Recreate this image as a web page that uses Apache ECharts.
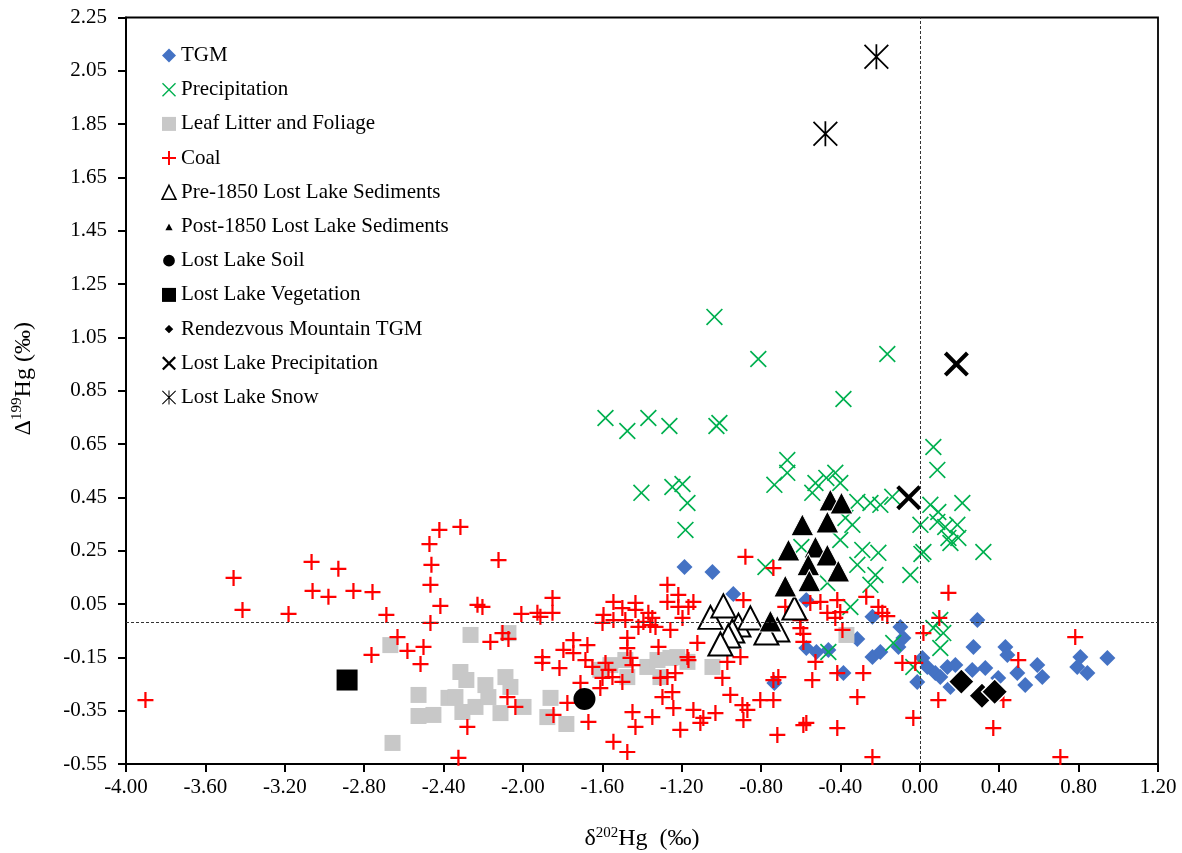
<!DOCTYPE html>
<html>
<head>
<meta charset="utf-8">
<title>Mercury isotope signatures</title>
<script src="https://cdn.jsdelivr.net/npm/echarts@6/dist/echarts.min.js"></script>
<style>
  html, body { margin: 0; padding: 0; background: #fff; }
  #chart { width: 1182px; height: 853px; }
</style>
</head>
<body>
<div id="chart"></div>
<script>
// Series names, in legend order
const seriesNames = [
  'TGM', 'Precipitation', 'Leaf Litter and Foliage', 'Coal',
  'Pre-1850 Lost Lake Sediments', 'Post-1850 Lost Lake Sediments',
  'Lost Lake Soil', 'Lost Lake Vegetation', 'Rendezvous Mountain TGM',
  'Lost Lake Precipitation', 'Lost Lake Snow'
];

// Axis ranges and tick steps
const xRange = [-4.0, 1.2], xStep = 0.4;
const yRange = [-0.55, 2.25], yStep = 0.2;

// Reference lines: δ202Hg = 0 and Δ199Hg ≈ 0
const xZeroLine = 0;
const yZeroLine = -0.02;

// [δ202Hg, Δ199Hg] pairs
const tgm = [
  [-1.186,0.189],[-1.045,0.170],[-0.940,0.088],[-0.572,0.065],[-0.733,-0.246],[-0.572,-0.115],
  [-0.521,-0.130],[-0.461,-0.122],[-0.385,-0.209],[-0.315,-0.081],[-0.239,0.002],[-0.239,-0.149],
  [-0.199,-0.130],[-0.098,-0.036],[-0.083,-0.077],[-0.108,-0.111],[-0.013,-0.242],[0.013,-0.152],
  [0.038,-0.186],[0.078,-0.209],[0.103,-0.224],[0.139,-0.186],[0.179,-0.179],[0.154,-0.261],
  [0.290,-0.010],[0.270,-0.111],[0.264,-0.197],[0.330,-0.190],[0.395,-0.227],[0.431,-0.111],
  [0.441,-0.141],[0.491,-0.209],[0.531,-0.254],[0.592,-0.179],[0.617,-0.224],[0.809,-0.149],
  [0.793,-0.186],[0.844,-0.209],[0.945,-0.152]
];

const precipitation = [
  [-1.035,1.127],[-0.814,0.969],[-0.385,0.819],[-0.164,0.988],[-1.584,0.748],[-1.474,0.699],
  [-1.368,0.748],[-1.262,0.718],[-1.025,0.718],[-1.010,0.729],[-0.668,0.590],[-0.668,0.542],
  [-0.733,0.497],[-1.403,0.467],[-1.247,0.489],[-1.196,0.500],[-1.171,0.429],[-1.181,0.328],
  [-0.526,0.504],[-0.542,0.467],[-0.426,0.542],[-0.401,0.504],[0.068,0.639],[0.088,0.553],
  [-0.315,0.433],[-0.249,0.429],[-0.199,0.422],[-0.139,0.452],[0.053,0.422],[0.093,0.395],
  [0.214,0.429],[-0.375,0.373],[-0.340,0.347],[0.003,0.347],[0.088,0.358],[0.128,0.339],
  [0.189,0.347],[0.144,0.298],[0.194,0.298],[0.320,0.245],[0.018,0.245],[-0.290,0.253],
  [-0.209,0.242],[-0.315,0.197],[-0.224,0.159],[-0.048,0.159],[-0.249,0.122],[-0.778,0.189],
  [-0.466,0.129],[-0.350,0.039],[0.103,-0.010],[0.068,-0.040],[0.118,-0.059],[-0.597,0.264],
  [-0.401,0.290],[-0.134,-0.096],[0.103,-0.115],[-0.033,-0.186],[0.154,0.279],[0.008,0.238],
  [-0.461,-0.130],[-0.471,0.523]
];

const leafLitter = [
  [-2.668,-0.104],[-2.657,-0.471],[-2.526,-0.291],[-2.526,-0.370],[-2.451,-0.366],[-2.375,-0.302],
  [-2.340,-0.299],[-2.315,-0.205],[-2.285,-0.235],[-2.264,-0.066],[-2.305,-0.355],[-2.239,-0.336],
  [-2.189,-0.254],[-2.174,-0.299],[-2.113,-0.359],[-2.088,-0.224],[-2.073,-0.059],[-2.063,-0.261],
  [-1.997,-0.336],[-1.861,-0.302],[-1.877,-0.374],[-1.781,-0.400],[-1.610,-0.197],[-1.559,-0.179],
  [-1.484,-0.160],[-1.474,-0.224],[-1.373,-0.186],[-1.322,-0.160],[-1.307,-0.224],[-1.257,-0.152],
  [-1.222,-0.149],[-1.171,-0.167],[-1.045,-0.186],[-0.370,-0.066]
];

const coal = [
  [-3.902,-0.310],[-3.458,0.148],[-3.413,0.028],[-3.181,0.013],[-3.065,0.208],[-3.060,0.099],
  [-2.980,0.077],[-2.930,0.182],[-2.854,0.099],[-2.758,0.095],[-2.688,0.009],[-2.763,-0.141],
  [-2.632,-0.074],[-2.582,-0.126],[-2.501,-0.111],[-2.516,-0.175],[-2.421,0.328],[-2.315,0.339],
  [-2.471,0.275],[-2.461,0.197],[-2.466,0.122],[-2.416,0.043],[-2.466,-0.021],[-2.123,0.215],
  [-2.229,0.047],[-2.204,0.039],[-2.164,-0.092],[-2.103,-0.059],[-2.073,-0.081],[-2.008,0.013],
  [-1.927,0.017],[-1.912,0.002],[-1.851,0.073],[-1.851,0.017],[-1.902,-0.149],[-1.902,-0.171],
  [-2.078,-0.299],[-2.038,-0.336],[-1.846,-0.366],[-2.280,-0.411],[-2.325,-0.527],
  [-1.272,0.122],[-1.217,0.084],[-1.272,0.058],[-1.141,0.058],[-1.166,0.039],[-1.217,0.039],
  [-1.544,0.058],[-1.499,0.035],[-1.433,0.054],[-1.433,0.028],[-1.594,0.009],[-1.599,-0.021],
  [-1.544,-0.010],[-1.484,-0.010],[-1.418,-0.036],[-1.393,-0.017],[-1.368,0.017],[-1.348,-0.002],
  [-1.358,-0.029],[-1.332,-0.036],[-1.257,-0.047],[-1.196,-0.002],[-1.474,-0.077],[-1.474,-0.115],
  [-1.317,-0.111],[-1.746,-0.085],[-1.675,-0.104],[-1.796,-0.122],[-1.746,-0.134],[-1.685,-0.160],
  [-1.650,-0.186],[-1.584,-0.171],[-1.569,-0.197],[-1.549,-0.224],[-1.458,-0.152],[-1.448,-0.179],
  [-1.599,-0.227],[-1.499,-0.242],[-1.610,-0.265],[-1.710,-0.246],[-1.307,-0.227],[-1.232,-0.209],
  [-1.272,-0.224],[-1.171,-0.149],[-1.121,-0.096],[-1.166,-0.160],[-1.297,-0.299],[-1.247,-0.280],
  [-1.242,-0.340],[-1.141,-0.347],[-1.091,-0.377],[-1.030,-0.359],[-1.106,-0.396],[-0.894,-0.329],
  [-0.869,-0.347],[-0.889,-0.385],[-0.955,-0.291],[-0.995,-0.227],[-0.904,-0.149],[-0.970,-0.167],
  [-0.889,0.065],[-1.776,-0.321],[-1.670,-0.392],[-1.448,-0.355],[-1.433,-0.411],[-1.348,-0.374],
  [-1.207,-0.422],[-1.544,-0.467],[-1.474,-0.505],[-1.816,-0.190],
  [-0.879,0.227],[-0.738,0.185],[-0.804,-0.310],[-0.738,-0.310],[-0.738,-0.235],[-0.718,-0.441],
  [-0.587,-0.404],[-0.416,-0.415],[-0.239,-0.524],[-0.542,-0.235],[-0.526,-0.167],[-0.416,-0.209],
  [-0.285,-0.209],[-0.315,-0.299],[-0.033,-0.377],[-0.602,-0.010],[-0.602,-0.040],[-0.587,-0.062],
  [-0.587,-0.092],[-0.552,0.054],[-0.501,0.058],[-0.466,0.017],[-0.416,0.065],[-0.426,-0.002],
  [-0.401,0.020],[-0.390,-0.047],[-0.270,0.077],[-0.209,0.039],[-0.189,0.017],[-0.164,0.005],
  [-0.088,-0.171],[-0.023,-0.171],[0.018,-0.059],[0.093,-0.310],[0.144,0.092],[0.098,-0.002],
  [0.496,-0.160],[0.783,-0.074],[0.421,-0.310],[0.370,-0.415],[0.708,-0.524],[-0.678,0.039],
  [-0.713,-0.224],[-0.572,-0.396]
];

const pre1850 = [
  [-1.055,0.000],[-0.990,0.043],[-0.914,-0.029],[-0.945,-0.051],[-0.965,-0.070],
  [-1.005,-0.100],[-0.854,-0.002],[-0.718,-0.047],[-0.632,0.035],[-0.773,-0.059]
];

const post1850 = [
  [-0.451,0.440],[-0.395,0.429],[-0.592,0.347],[-0.466,0.358],[-0.662,0.253],[-0.526,0.264],
  [-0.466,0.234],[-0.562,0.197],[-0.411,0.174],[-0.557,0.137],[-0.678,0.118],[-0.753,-0.014]
];

const lostLakeSoil = [[-1.690,-0.306]];
const lostLakeVegetation = [[-2.886,-0.235]];
const rendezvousTGM = [[0.209,-0.241],[0.313,-0.294],[0.377,-0.279]];
const lostLakePrecipitation = [[0.184,0.950],[-0.056,0.449]];
const lostLakeSnow = [[-0.219,2.103],[-0.476,1.814]];

// ---- marker shapes (filled outlines so they scale as symbols) ----
function crossPath(d) {
  return 'M0,' + d + 'L' + d + ',0L50,' + (50 - d) + 'L' + (100 - d) + ',0L100,' + d +
    'L' + (50 + d) + ',50L100,' + (100 - d) + 'L' + (100 - d) + ',100L50,' + (50 + d) +
    'L' + d + ',100L0,' + (100 - d) + 'L' + (50 - d) + ',50Z';
}
const PLUS = 'path://M43,0L57,0L57,43L100,43L100,57L57,57L57,100L43,100L43,57L0,57L0,43L43,43Z';
const THIN_X = 'path://' + crossPath(7);
const BOLD_X = 'path://' + crossPath(11.5);
const ASTERISK = 'path://' + crossPath(5) + 'M46.5,0L53.5,0L53.5,100L46.5,100Z';
// legend-only icons with an empty margin so the glyph appears smaller
const PAD = 'M0,0L0.1,0M100,100L99.9,100';
const SMALL_TRIANGLE = 'path://' + PAD + 'M50,14L88,84L12,84Z';
const SMALL_DIAMOND = 'path://' + PAD + 'M50,10L90,50L50,90L10,50Z';
const SMALL_CIRCLE = 'path://' + PAD + 'M50,8A42,42 0 1,1 49.9,8Z';

const FONT = "'Liberation Serif', 'Times New Roman', serif";

const markLines = {
  silent: true,
  symbol: ['none', 'none'],
  label: { show: false },
  lineStyle: { color: '#333', width: 1, type: [3, 2] },
  data: [{ xAxis: xZeroLine }, { yAxis: yZeroLine }]
};

const option = {
  animation: false,
  backgroundColor: '#fff',
  grid: {
    left: 126, right: 24, top: 17.5, bottom: 89,
    outerBoundsMode: 'none',
    containLabel: false,
    show: true, borderColor: '#000', borderWidth: 1.8, backgroundColor: 'transparent'
  },
  legend: {
    orient: 'vertical',
    left: 161, top: 45,
    padding: 0,
    itemWidth: 14, itemHeight: 14,
    itemGap: 13.2,
    selectedMode: false,
    textStyle: { fontFamily: FONT, fontSize: 21, color: '#000', lineHeight: 20 },
    data: [
      { name: seriesNames[0] },
      { name: seriesNames[1] },
      { name: seriesNames[2] },
      { name: seriesNames[3] },
      { name: seriesNames[4], itemStyle: { borderWidth: 1.5 } },
      { name: seriesNames[5], icon: SMALL_TRIANGLE },
      { name: seriesNames[6], icon: SMALL_CIRCLE },
      { name: seriesNames[7] },
      { name: seriesNames[8], icon: SMALL_DIAMOND },
      { name: seriesNames[9] },
      { name: seriesNames[10] }
    ]
  },
  xAxis: {
    type: 'value',
    min: xRange[0], max: xRange[1], interval: xStep,
    name: '{t|δ}{s|202}{t|Hg  (‰)}',
    nameLocation: 'middle',
    nameGap: 62,
    nameTextStyle: {
      rich: {
        t: { fontFamily: FONT, fontSize: 24, color: '#000', lineHeight: 26 },
        s: { fontFamily: FONT, fontSize: 15, color: '#000', lineHeight: 15, verticalAlign: 'top' }
      }
    },
    axisLine: { show: true, onZero: false, lineStyle: { color: '#000', width: 2 } },
    axisTick: { show: true, inside: false, length: 8, lineStyle: { color: '#000', width: 2 } },
    axisLabel: {
      fontFamily: FONT, fontSize: 21, color: '#000', margin: 13,
      formatter: v => v.toFixed(2)
    },
    splitLine: { show: false }
  },
  yAxis: {
    type: 'value',
    min: yRange[0], max: yRange[1], interval: yStep,
    name: '{t|Δ}{s|199}{t|Hg (‰)}',
    nameLocation: 'middle',
    nameRotate: 90,
    nameGap: 88,
    nameTextStyle: {
      padding: [0, 0, 0, 24],
      rich: {
        t: { fontFamily: FONT, fontSize: 24, color: '#000', lineHeight: 28 },
        s: { fontFamily: FONT, fontSize: 15, color: '#000', lineHeight: 15, verticalAlign: 'top' }
      }
    },
    axisLine: { show: true, onZero: false, lineStyle: { color: '#000', width: 2 } },
    axisTick: { show: true, inside: false, length: 8, lineStyle: { color: '#000', width: 2 } },
    axisLabel: {
      fontFamily: FONT, fontSize: 21, color: '#000', margin: 19,
      formatter: v => v.toFixed(2)
    },
    splitLine: { show: false }
  },
  series: [
    {
      name: seriesNames[0], type: 'scatter', data: tgm,
      symbol: 'diamond', symbolSize: 16,
      itemStyle: { color: '#4472C4', opacity: 1 },
      markLine: markLines
    },
    {
      name: seriesNames[1], type: 'scatter', data: precipitation,
      symbol: THIN_X, symbolSize: 17,
      itemStyle: { color: '#00B050', opacity: 1 }
    },
    {
      name: seriesNames[2], type: 'scatter', data: leafLitter,
      symbol: 'rect', symbolSize: 16,
      itemStyle: { color: '#C8C8C8', opacity: 1 }
    },
    {
      name: seriesNames[3], type: 'scatter', data: coal,
      symbol: PLUS, symbolSize: 16,
      itemStyle: { color: '#FF0000', opacity: 1 }
    },
    {
      name: seriesNames[4], type: 'scatter', data: pre1850,
      symbol: 'triangle', symbolSize: [24, 23],
      itemStyle: { color: '#fff', borderColor: '#000', borderWidth: 2, opacity: 1 }
    },
    {
      name: seriesNames[5], type: 'scatter', data: post1850,
      symbol: 'triangle', symbolSize: [23, 22],
      itemStyle: { color: '#000', borderColor: '#fff', borderWidth: 1, opacity: 1 }
    },
    {
      name: seriesNames[6], type: 'scatter', data: lostLakeSoil,
      symbol: 'circle', symbolSize: 22,
      itemStyle: { color: '#000', opacity: 1 }
    },
    {
      name: seriesNames[7], type: 'scatter', data: lostLakeVegetation,
      symbol: 'rect', symbolSize: 21,
      itemStyle: { color: '#000', opacity: 1 }
    },
    {
      name: seriesNames[8], type: 'scatter', data: rendezvousTGM,
      symbol: 'diamond', symbolSize: 26,
      itemStyle: { color: '#000', borderColor: '#fff', borderWidth: 1.5, opacity: 1 }
    },
    {
      name: seriesNames[9], type: 'scatter', data: lostLakePrecipitation,
      symbol: BOLD_X, symbolSize: 25,
      itemStyle: { color: '#000', opacity: 1 }
    },
    {
      name: seriesNames[10], type: 'scatter', data: lostLakeSnow,
      symbol: ASTERISK, symbolSize: 25,
      itemStyle: { color: '#000', opacity: 1 }
    }
  ]
};

const chart = echarts.init(document.getElementById('chart'), null, { renderer: 'canvas' });
chart.setOption(option);
</script>
</body>
</html>
